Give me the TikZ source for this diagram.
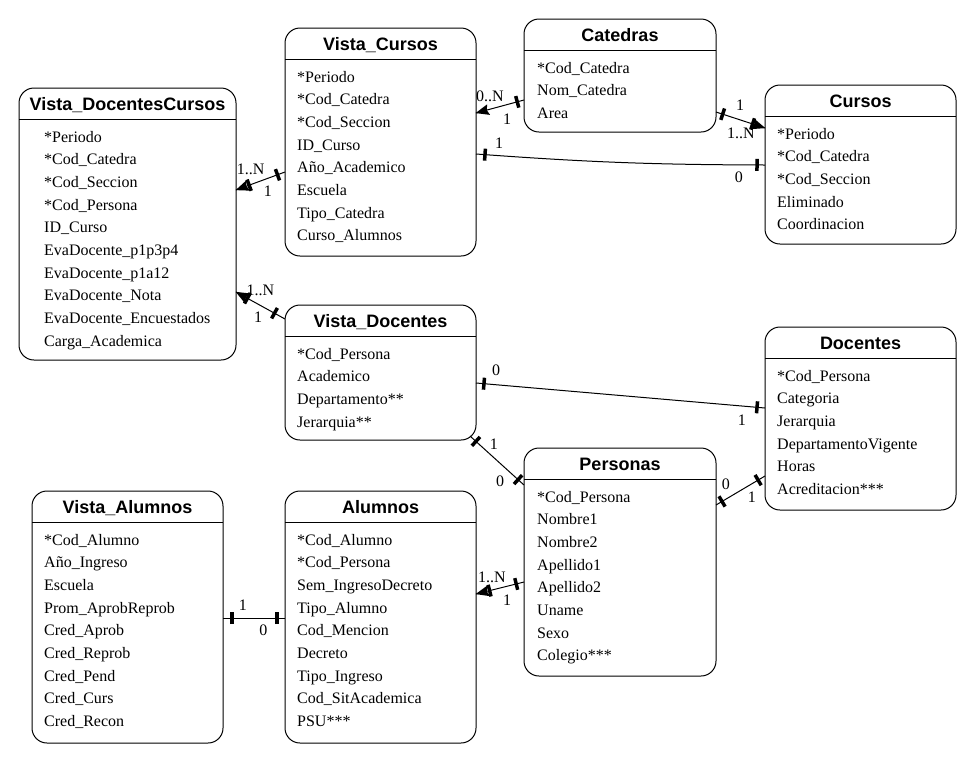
\documentclass[tikz,border=0pt]{standalone}
\usepackage{fontspec}
\setmainfont{Liberation Serif}
\setsansfont{Liberation Sans}
\usetikzlibrary{arrows.meta,calc,decorations.markings,positioning}

\tikzstyle{tabla}=[draw,line width=1pt,rounded corners=15pt,inner sep=0pt,outer sep=0pt,anchor=north west]
\tikzstyle{titulo}=[font=\fontsize{18}{18}\selectfont\sffamily\bfseries,anchor=base,inner sep=0pt]
\tikzstyle{campo}=[font=\fontsize{16}{16}\selectfont,anchor=base west,inner sep=0pt]
\tikzstyle{card}=[font=\fontsize{16}{16}\selectfont,inner sep=0pt]
\tikzstyle{rel}=[line width=1pt]
\tikzset{
	raya/.style={postaction={decorate,decoration={markings,
		mark=at position #1 with {\draw[-,line width=3.5pt] (0,-6pt) -- (0,6pt);}}}},
	muchos/.style={postaction={decorate,decoration={markings,
		mark=at position 0.1pt with {\fill[black] (-0.5pt,0pt) -- (13pt,5.5pt) -- (11pt,0pt) -- (13pt,-5.5pt) -- cycle;}}}}
}

\begin{document}
\begin{tikzpicture}[x=1pt,y=-1pt]
	\useasboundingbox (0,0) rectangle (976,764);
	%The tables
	\node[tabla,minimum width=217pt,minimum height=272pt] (vdc) at (19,88) {};
	\node[titulo] (vdct) at ($(vdc.north)+(0,22.5)$) {Vista\_DocentesCursos};
	\draw[line width=1pt] ($(vdc.north west)+(0,31)$) -- ($(vdc.north east)+(0,31)$);
	\foreach \c [count=\i] in {*Periodo, *Cod\_Catedra, *Cod\_Seccion, *Cod\_Persona, ID\_Curso,
							EvaDocente\_p1p3p4, EvaDocente\_p1a12, EvaDocente\_Nota,
							EvaDocente\_Encuestados, Carga\_Academica}
		\node[campo] (vdc\i) at ($(vdc.north west)+(25,{31.33+22.67*\i})$) {\c};

	\node[tabla,minimum width=191pt,minimum height=228pt] (vc) at (285,28) {};
	\node[titulo] (vct) at ($(vc.north)+(0,22.5)$) {Vista\_Cursos};
	\draw[line width=1pt] ($(vc.north west)+(0,31)$) -- ($(vc.north east)+(0,31)$);
	\foreach \c [count=\i] in {*Periodo, *Cod\_Catedra, *Cod\_Seccion, ID\_Curso,
							Año\_Academico, Escuela, Tipo\_Catedra, Curso\_Alumnos}
		\node[campo] (vc\i) at ($(vc.north west)+(12,{31.33+22.67*\i})$) {\c};

	\node[tabla,minimum width=192pt,minimum height=113pt] (cat) at (524,19) {};
	\node[titulo] (catt) at ($(cat.north)+(0,22.5)$) {Catedras};
	\draw[line width=1pt] ($(cat.north west)+(0,31)$) -- ($(cat.north east)+(0,31)$);
	\foreach \c [count=\i] in {*Cod\_Catedra, Nom\_Catedra, Area}
		\node[campo] (cat\i) at ($(cat.north west)+(13,{31.33+22.67*\i})$) {\c};

	\node[tabla,minimum width=191pt,minimum height=159pt] (cur) at (765,85) {};
	\node[titulo] (curt) at ($(cur.north)+(0,22.5)$) {Cursos};
	\draw[line width=1pt] ($(cur.north west)+(0,31)$) -- ($(cur.north east)+(0,31)$);
	\foreach \c [count=\i] in {*Periodo, *Cod\_Catedra, *Cod\_Seccion, Eliminado, Coordinacion}
		\node[campo] (cur\i) at ($(cur.north west)+(12,{31.33+22.67*\i})$) {\c};

	\node[tabla,minimum width=191pt,minimum height=135pt] (vd) at (285,305) {};
	\node[titulo] (vdt) at ($(vd.north)+(0,22.5)$) {Vista\_Docentes};
	\draw[line width=1pt] ($(vd.north west)+(0,31)$) -- ($(vd.north east)+(0,31)$);
	\foreach \c [count=\i] in {*Cod\_Persona, Academico, Departamento**, Jerarquia**}
		\node[campo] (vd\i) at ($(vd.north west)+(12,{31.33+22.67*\i})$) {\c};

	\node[tabla,minimum width=191pt,minimum height=183pt] (doc) at (765,327) {};
	\node[titulo] (doct) at ($(doc.north)+(0,22.5)$) {Docentes};
	\draw[line width=1pt] ($(doc.north west)+(0,31)$) -- ($(doc.north east)+(0,31)$);
	\foreach \c [count=\i] in {*Cod\_Persona, Categoria, Jerarquia, DepartamentoVigente,
							Horas, Acreditacion***}
		\node[campo] (doc\i) at ($(doc.north west)+(12,{31.33+22.67*\i})$) {\c};

	\node[tabla,minimum width=192pt,minimum height=228pt] (per) at (524,448) {};
	\node[titulo] (pert) at ($(per.north)+(0,22.5)$) {Personas};
	\draw[line width=1pt] ($(per.north west)+(0,31)$) -- ($(per.north east)+(0,31)$);
	\foreach \c [count=\i] in {*Cod\_Persona, Nombre1, Nombre2, Apellido1, Apellido2,
							Uname, Sexo, Colegio***}
		\node[campo] (per\i) at ($(per.north west)+(13,{31.33+22.67*\i})$) {\c};

	\node[tabla,minimum width=191pt,minimum height=252pt] (va) at (32,491) {};
	\node[titulo] (vat) at ($(va.north)+(0,22.5)$) {Vista\_Alumnos};
	\draw[line width=1pt] ($(va.north west)+(0,31)$) -- ($(va.north east)+(0,31)$);
	\foreach \c [count=\i] in {*Cod\_Alumno, Año\_Ingreso, Escuela, Prom\_AprobReprob,
							Cred\_Aprob, Cred\_Reprob, Cred\_Pend, Cred\_Curs, Cred\_Recon}
		\node[campo] (va\i) at ($(va.north west)+(12,{31.33+22.67*\i})$) {\c};

	\node[tabla,minimum width=191pt,minimum height=252pt] (alu) at (285,491) {};
	\node[titulo] (alut) at ($(alu.north)+(0,22.5)$) {Alumnos};
	\draw[line width=1pt] ($(alu.north west)+(0,31)$) -- ($(alu.north east)+(0,31)$);
	\foreach \c [count=\i] in {*Cod\_Alumno, *Cod\_Persona, Sem\_IngresoDecreto, Tipo\_Alumno,
							Cod\_Mencion, Decreto, Tipo\_Ingreso, Cod\_SitAcademica, PSU***}
		\node[campo] (alu\i) at ($(alu.north west)+(12,{31.33+22.67*\i})$) {\c};

	%The relations
	\draw[rel,muchos,raya=14pt,raya=-8pt] ($(vdc.north east)+(0,102)$)
		-- node[card,pos=0.3,above=9pt] (r1a) {1..N} node[card,pos=0.65,below=7.5pt] (r1b) {1}
		($(vc.north west)+(0,144)$);
	\draw[rel,muchos,raya=-7pt] ($(vc.north east)+(0,85)$)
		-- node[card,pos=0.29,above=7pt] (r2a) {0..N} node[card,pos=0.65,below=9pt] (r2b) {1}
		($(cat.north west)+(0,81)$);
	\draw[rel,muchos,raya=13pt,raya=-7pt] ($(cur.north west)+(0,43)$)
		-- node[card,pos=0.49,below=7pt] (r3a) {1..N} node[card,pos=0.51,above=9pt] (r3b) {1}
		($(cat.north east)+(0,93)$);
	\draw[rel,raya=9pt,raya=-8pt] ($(vc.north east)+(0,126)$)
		to[bend right=2] node[card,pos=0.07,above=6.5pt] (r4a) {1} node[card,pos=0.92,below=6pt] (r4b) {0}
		($(cur.north west)+(0,80)$);
	\draw[rel,muchos,raya=13pt,raya=-12pt] ($(vdc.north east)+(0,204)$)
		-- node[card,pos=0.5,above=9pt] (r5a) {1..N} node[card,pos=0.45,below=7.5pt] (r5b) {1}
		($(vd.north west)+(0,14)$);
	\draw[rel,raya=8pt,raya=-8pt] ($(vd.north east)+(0,78)$)
		-- node[card,pos=0.07,above=8.5pt] (r6a) {0} node[card,pos=0.92,below=8.5pt] (r6b) {1}
		($(doc.north west)+(0,81)$);
	\draw[rel,raya=8pt,raya=-8pt] ($(vd.south east)+(-6,-4)$)
		-- node[card,pos=0.32,above right=3pt] (r7a) {1} node[card,pos=0.72,below left=6pt] (r7b) {0}
		($(per.north west)+(0,37)$);
	\draw[rel,raya=7pt,raya=-8pt] ($(per.north east)+(0,57)$)
		-- node[card,pos=0.2,above=9pt] (r8a) {0} node[card,pos=0.73,below=7.5pt] (r8b) {1}
		($(doc.north west)+(0,149)$);
	\draw[rel,raya=9pt,raya=-8pt] ($(va.north east)+(0,127)$)
		-- node[card,pos=0.32,above=7.5pt] (r9a) {1} node[card,pos=0.65,below=6.5pt] (r9b) {0}
		($(alu.north west)+(0,127)$);
	\draw[rel,muchos,raya=14pt,raya=-8pt] ($(alu.north east)+(0,103)$)
		-- node[card,pos=0.33,above=6.5pt] (r10a) {1..N} node[card,pos=0.65,below=8.5pt] (r10b) {1}
		($(per.north west)+(0,134)$);
\end{tikzpicture}
\end{document}
